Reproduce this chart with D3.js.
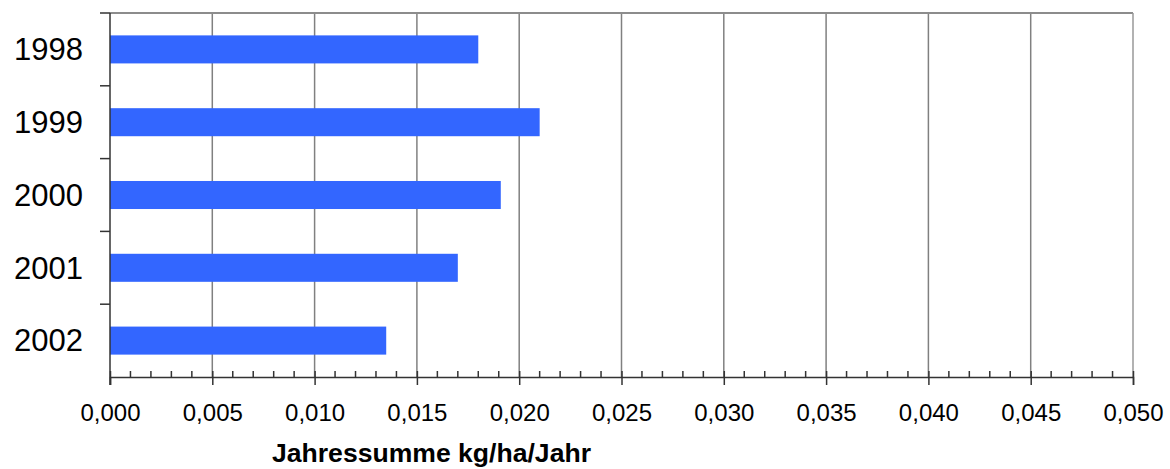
<!DOCTYPE html>
<html>
<head>
<meta charset="utf-8">
<script src="https://cdn.jsdelivr.net/npm/d3@7"></script>
<style>
  html, body { margin: 0; padding: 0; background: #fff; }
  svg { display: block; font-family: "Liberation Sans", Arial, sans-serif; }
</style>
</head>
<body>
<svg id="chart" width="1170" height="469"></svg>
<script>
const categories = ["1998", "1999", "2000", "2001", "2002"];
const values = [0.018, 0.021, 0.0191, 0.017, 0.0135];
const xTicks = [0, 0.005, 0.01, 0.015, 0.02, 0.025, 0.03, 0.035, 0.04, 0.045, 0.05];
const xTickLabels = ["0,000", "0,005", "0,010", "0,015", "0,020", "0,025", "0,030", "0,035", "0,040", "0,045", "0,050"];
const xTitle = "Jahressumme kg/ha/Jahr";

const svg = d3.select("#chart");
const mLeft = 110, mRight = 1133, mTop = 13, mBottom = 377;

const x = d3.scaleLinear().domain([0, 0.05]).range([mLeft, mRight]);
const y = d3.scaleBand().domain(categories).range([mTop, mBottom]).paddingInner(0.615).paddingOuter(0.3075);
const yb = d3.scaleBand().domain(categories).range([mTop, mBottom]).padding(0);

// gridlines
svg.append("g").selectAll("line").data(xTicks.slice(1, -1)).join("line")
  .attr("x1", d => x(d)).attr("x2", d => x(d))
  .attr("y1", mTop).attr("y2", mBottom)
  .attr("stroke", "#808080").attr("stroke-width", 1.5);

// top and right border
svg.append("line").attr("x1", mLeft).attr("x2", mRight).attr("y1", mTop).attr("y2", mTop)
  .attr("stroke", "#8c8c8c").attr("stroke-width", 2);
svg.append("line").attr("x1", mRight).attr("x2", mRight).attr("y1", mTop).attr("y2", mBottom)
  .attr("stroke", "#999").attr("stroke-width", 1.5);

// bars
svg.append("g").selectAll("rect").data(categories).join("rect")
  .attr("x", x(0))
  .attr("y", d => y(d))
  .attr("width", (d, i) => x(values[i]) - x(0))
  .attr("height", y.bandwidth())
  .attr("fill", "#3366FF");

// x axis
const xAxisMajor = d3.axisBottom(x).tickValues(xTicks).tickSize(8).tickFormat((d, i) => xTickLabels[i]);
const gx = svg.append("g").attr("transform", `translate(0,${mBottom})`).call(xAxisMajor);
gx.select(".domain").attr("stroke", "#333").attr("stroke-width", 1.5);
gx.selectAll(".tick line").attr("stroke", "#333").attr("stroke-width", 1.5).attr("y1", -6);
gx.selectAll(".tick text").attr("font-size", 24).attr("fill", "#000").attr("y", 44).attr("dy", 0)
  .attr("font-family", "Liberation Sans, Arial, sans-serif");

// minor ticks
const minor = d3.range(0, 51).map(i => i / 1000).filter((d, i) => i % 5 !== 0);
svg.append("g").selectAll("line").data(minor).join("line")
  .attr("x1", d => x(d)).attr("x2", d => x(d))
  .attr("y1", mBottom - 6).attr("y2", mBottom)
  .attr("stroke", "#333").attr("stroke-width", 1.5);

// y axis
const gy = svg.append("g").attr("transform", `translate(${mLeft},0)`);
gy.append("line").attr("x1", 0).attr("x2", 0).attr("y1", mTop).attr("y2", mBottom + 8)
  .attr("stroke", "#333").attr("stroke-width", 1.5);
gy.selectAll("line.cat").data(categories).join("line").attr("class", "cat")
  .attr("x1", -10).attr("x2", 0)
  .attr("y1", d => yb(d)).attr("y2", d => yb(d))
  .attr("stroke", "#333").attr("stroke-width", 1.5);
gy.selectAll("text").data(categories).join("text")
  .attr("x", -27)
  .attr("y", d => yb(d) + yb.bandwidth() / 2)
  .attr("dy", "0.35em")
  .attr("text-anchor", "end")
  .attr("font-size", 31)
  .attr("fill", "#000")
  .text(d => d);

// x title
svg.append("text")
  .attr("x", 272).attr("y", 462)
  .attr("font-size", 25).attr("font-weight", "bold")
  .attr("textLength", 319).attr("lengthAdjust", "spacingAndGlyphs")
  .attr("fill", "#000")
  .text(xTitle);
</script>
</body>
</html>
